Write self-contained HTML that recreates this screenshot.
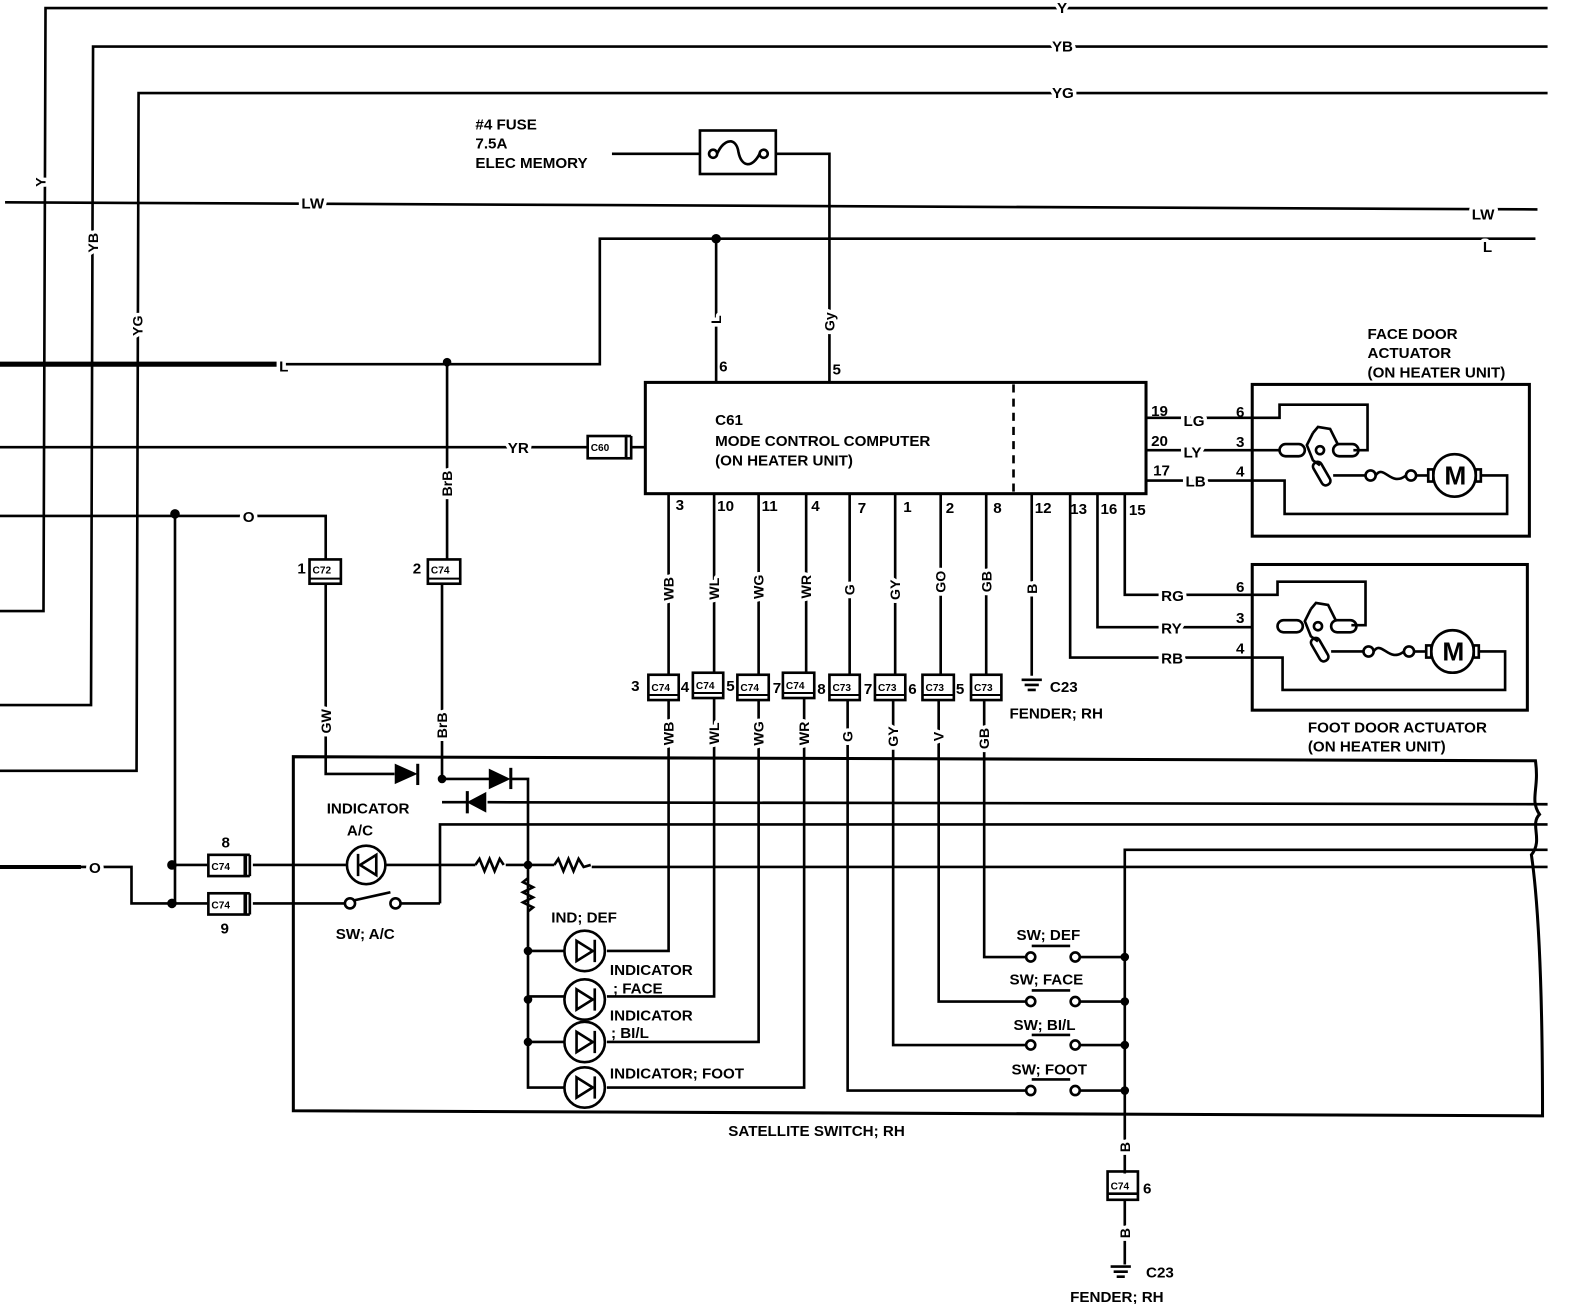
<!DOCTYPE html>
<html><head><meta charset="utf-8"><style>
html,body{margin:0;padding:0;background:#fff}
svg{display:block}
text{font-family:"Liberation Sans",sans-serif;font-weight:bold;fill:#000}
.m{paint-order:stroke;stroke:#fff;stroke-width:7px;stroke-linejoin:round}
</style></head><body>
<svg width="1584" height="1304" viewBox="0 0 1566 1289" preserveAspectRatio="none" xmlns="http://www.w3.org/2000/svg">
<g fill="none" stroke="#000" stroke-width="2.6" stroke-linejoin="miter">
<path d="M0,604 L43,604 L45,8 L1530,8"/>
<path d="M0,697 L90,697 L92,46 L1530,46"/>
<path d="M0,762 L135,762 L137,92 L1530,92"/>
<path d="M5,200 L1520,207"/>
<path d="M0,360 L593,360 L593,236 L1518,236" />
<path d="M0,360 L275,360" stroke-width="5"/>
<path d="M708,236 L708,378"/>
<path d="M442,358 L442,553"/>
<path d="M437,578 L437,770"/>
<path d="M605,152 L692,152"/>
<rect x="692" y="129" width="75" height="43"/>
<circle cx="705" cy="152" r="4"/><circle cx="755" cy="152" r="4"/>
<path d="M709,152 C716,136 728,136 730,150 C733,166 744,166 751,152"/>
<path d="M767,152 L820,152 L820,378"/>
<rect x="638" y="378" width="495" height="110" stroke-width="3"/>
<path d="M1002,380 L1002,486" stroke-dasharray="8,6"/>
<path d="M0,442 L580,442"/>
<rect x="581" y="431" width="38" height="22"/>
<path d="M619,431 L619,453 M624,431 L624,453 L619,453 M624,431 L619,431 M624,442 L638,442"/>
<path d="M0,510 L322,510 L322,553"/>
<path d="M173,508 L173,893"/>
<path d="M322,578 L322,765 L390,765"/>
<path d="M1133,413 L1238,413 M1133,445 L1238,445 M1133,475 L1238,475"/>
<rect x="1238" y="380" width="274" height="150" stroke-width="3"/>
<path d="M1238,413 L1265,413 L1265,400 L1352,400 L1352,445 L1338,445"/>
<path d="M1238,445 L1265,445"/>
<rect x="1265" y="439" width="25" height="12" rx="6"/>
<rect x="1318" y="439" width="25" height="12" rx="6"/>
<path d="M1298,428 L1303,422 L1315,424 L1323,440 M1298,428 L1292,440 L1298,455 L1305,460"/>
<circle cx="1305" cy="445" r="4"/>
<rect x="1302" y="456" width="9" height="25" rx="4" transform="rotate(-30 1306 468)"/>
<path d="M1318,470 L1350,470"/>
<circle cx="1355" cy="470" r="5"/><circle cx="1395" cy="470" r="5"/>
<path d="M1360,470 C1368,458 1375,482 1390,470"/>
<path d="M1400,470 L1412,470"/>
<rect x="1412" y="464" width="5" height="12"/>
<circle cx="1438" cy="470" r="21"/>
<rect x="1459" y="464" width="5" height="12"/>
<path d="M1464,470 L1490,470 L1490,508 L1270,508 L1270,475 L1238,475"/>
<path d="M1112,488 L1112,588 L1238,588 M1085,488 L1085,620 L1238,620 M1058,488 L1058,650 L1238,650"/>
<rect x="1238" y="558" width="272" height="144" stroke-width="3"/>
<path d="M1238,588 L1263,588 L1263,575 L1350,575 L1350,618 L1336,618"/>
<rect x="1263" y="613" width="25" height="12" rx="6"/>
<rect x="1316" y="613" width="25" height="12" rx="6"/>
<path d="M1296,602 L1301,596 L1313,598 L1321,614 M1296,602 L1290,614 L1296,629 L1303,634"/>
<circle cx="1303" cy="619" r="4"/>
<rect x="1300" y="630" width="9" height="25" rx="4" transform="rotate(-30 1304 642)"/>
<path d="M1316,644 L1348,644"/>
<circle cx="1353" cy="644" r="5"/><circle cx="1393" cy="644" r="5"/>
<path d="M1358,644 C1366,632 1373,656 1388,644"/>
<path d="M1398,644 L1410,644"/>
<rect x="1410" y="638" width="5" height="12"/>
<circle cx="1436" cy="644" r="21"/>
<rect x="1457" y="638" width="5" height="12"/>
<path d="M1462,644 L1488,644 L1488,682 L1268,682 L1268,650 L1238,650"/>
<path d="M661,488 V668 M706,488 V666 M750,488 V668 M797,488 V666 M840,488 V668 M885,488 V668 M930,488 V668 M975,488 V668 M1020,488 V668"/>
<path d="M1010,672 H1030 M1013,677 H1027 M1016,682 H1024"/>
<path d="M661,692 L661,940 L600,940"/>
<path d="M706,690 L706,985 L600,985"/>
<path d="M750,692 L750,1030 L600,1030"/>
<path d="M795,690 L795,1075 L600,1075"/>
<path d="M838,692 L838,1078 L1015,1078"/>
<path d="M883,692 L883,1033 L1015,1033"/>
<path d="M928,692 L928,990 L1015,990"/>
<path d="M973,692 L973,946 L1015,946"/>
<path d="M290,748 L1518,752 C1522,780 1512,790 1522,805 C1512,815 1526,830 1514,845 C1522,900 1525,1000 1525,1103 L290,1098 Z" stroke-width="3"/>
<path d="M437,770 L484,770"/>
<path d="M505,770 L522,770 L522,1075 L558,1075"/>
<path d="M437,793 L462,793 M482,793 L1530,795"/>
<path d="M435,893 L435,815 L1530,815"/>
<path d="M1112,1160 L1112,840 L1530,840"/>
<path d="M585,857 L1530,857"/>
<path d="M250,855 L342,855 M382,855 L470,855 M500,855 L548,855"/>
<path d="M470,855 l4,-6 l5,12 l5,-12 l5,12 l5,-12 l4,6"/>
<path d="M548,855 l4,-6 l5,12 l5,-12 l5,12 l5,-12 l5,8 l7,-2"/>
<path d="M522,868 l-5,4 l10,5 l-10,5 l10,5 l-10,5 l10,5 l-5,4"/>
<circle cx="362" cy="855" r="19"/>
<path d="M0,857 L130,857 L130,893 L205,893"/>
<path d="M0,857 L80,857" stroke-width="4"/>
<path d="M173,855 L205,855"/>
<rect x="206" y="845" width="36" height="21"/><path d="M243,845 V866 M247,845 V866 M243,845 H247 M243,866 H247"/>
<rect x="206" y="883" width="36" height="21"/><path d="M243,883 V904 M247,883 V904 M243,883 H247 M243,904 H247"/>
<path d="M250,893 L341,893 M396,893 L435,893"/>
<circle cx="346" cy="893" r="5"/><circle cx="391" cy="893" r="5"/>
<path d="M350,890 L386,882"/>
<path d="M522,940 L558,940 M522,985 L558,985 M522,1030 L558,1030"/>
<circle cx="578" cy="940" r="20"/><circle cx="578" cy="988" r="20"/><circle cx="578" cy="1030" r="20"/><circle cx="578" cy="1075" r="20"/>
<circle cx="1019" cy="946" r="4.5"/><circle cx="1063" cy="946" r="4.5"/>
<circle cx="1019" cy="990" r="4.5"/><circle cx="1063" cy="990" r="4.5"/>
<circle cx="1019" cy="1033" r="4.5"/><circle cx="1063" cy="1033" r="4.5"/>
<circle cx="1019" cy="1078" r="4.5"/><circle cx="1063" cy="1078" r="4.5"/>
<path d="M1068,946 H1112 M1068,990 H1112 M1068,1033 H1112 M1068,1078 H1112"/>
<path d="M1020,935 H1058 M1020,979 H1058 M1020,1023 H1058 M1020,1067 H1058"/>
<path d="M1112,1186 L1112,1250"/>
<rect x="1095" y="1158" width="30" height="28"/>
<path d="M1095,1180 H1125"/>
<path d="M1098,1252 H1118 M1101,1257 H1115 M1104,1262 H1112"/>
</g>
<g fill="#000" stroke="#000" stroke-width="1.5">
<circle cx="708" cy="236" r="4"/><circle cx="442" cy="358" r="3.5"/>
<circle cx="173" cy="508" r="4"/><circle cx="170" cy="855" r="4"/><circle cx="170" cy="893" r="4"/>
<circle cx="437" cy="770" r="3.5"/><circle cx="522" cy="855" r="3.5"/><circle cx="522" cy="940" r="3.5"/><circle cx="522" cy="988" r="3.5"/><circle cx="522" cy="1030" r="3.5"/>
<circle cx="1112" cy="946" r="3.5"/><circle cx="1112" cy="990" r="3.5"/><circle cx="1112" cy="1033" r="3.5"/><circle cx="1112" cy="1078" r="3.5"/>
<path d="M391,756 L411,765 L391,774 Z"/><path d="M413,755 V776" stroke-width="3"/>
<path d="M484,761 L503,770 L484,779 Z"/><path d="M505,759 V780" stroke-width="3"/>
<path d="M480,784 L463,793 L480,802 Z"/><path d="M462,782 V804" stroke-width="3"/>
</g>
<g fill="none" stroke="#000" stroke-width="2.6">
<path d="M372,845 L356,855 L372,865 Z M354,844 V866"/>
<path d="M570,930 L586,940 L570,950 Z M588,929 V951"/>
<path d="M570,978 L586,988 L570,998 Z M588,977 V999"/>
<path d="M570,1020 L586,1030 L570,1040 Z M588,1019 V1041"/>
<path d="M570,1065 L586,1075 L570,1085 Z M588,1064 V1086"/>
</g>
<g fill="#fff" stroke="#000" stroke-width="2.6">
<rect x="306" y="553" width="31" height="24"/><rect x="423" y="553" width="32" height="24"/>
<rect x="641" y="667" width="30" height="25"/><rect x="685" y="665" width="30" height="25"/>
<rect x="729" y="667" width="31" height="25"/><rect x="774" y="665" width="31" height="25"/>
<rect x="820" y="667" width="30" height="25"/><rect x="865" y="667" width="30" height="25"/>
<rect x="912" y="667" width="31" height="25"/><rect x="960" y="667" width="30" height="25"/>
</g>
<g stroke="#000" stroke-width="2" fill="none">
<path d="M306,572 H337 M423,572 H455 M641,687 H671 M685,685 H715 M729,687 H760 M774,685 H805 M820,687 H850 M865,687 H895 M912,687 H943 M960,687 H990"/>
</g>
<g font-size="10">
<text x="309" y="567">C72</text><text x="426" y="567">C74</text>
<text x="644" y="683">C74</text><text x="688" y="681">C74</text><text x="732" y="683">C74</text><text x="777" y="681">C74</text>
<text x="823" y="683">C73</text><text x="868" y="683">C73</text><text x="915" y="683">C73</text><text x="963" y="683">C73</text>
<text x="584" y="446">C60</text><text x="209" y="860">C74</text><text x="209" y="898">C74</text><text x="1098" y="1176">C74</text>
</g>
<g font-size="15">
<text x="1045" y="13" class="m">Y</text>
<text x="1040" y="51" class="m">YB</text>
<text x="1040" y="97" class="m">YG</text>
<text x="298" y="206" class="m">LW</text>
<text x="1455" y="217" class="m">LW</text>
<text x="1466" y="249" class="m">L</text>
<text x="276" y="367" class="m">L</text>
<text x="502" y="448" class="m">YR</text>
<text x="240" y="516" class="m">O</text>
<text x="88" y="863" class="m">O</text>
<text x="470" y="128">#4 FUSE</text>
<text x="470" y="147">7.5A</text>
<text x="470" y="166">ELEC MEMORY</text>
<text x="711" y="367">6</text><text x="823" y="370">5</text>
<text x="707" y="420">C61</text>
<text x="707" y="441">MODE CONTROL COMPUTER</text>
<text x="707" y="460">(ON HEATER UNIT)</text>
<text x="1138" y="411">19</text><text x="1138" y="441">20</text><text x="1140" y="470">17</text>
<text x="1170" y="421" class="m">LG</text><text x="1170" y="452" class="m">LY</text><text x="1172" y="481" class="m">LB</text>
<text x="1222" y="412">6</text><text x="1222" y="442">3</text><text x="1222" y="471">4</text>
<text x="1148" y="594" class="m">RG</text><text x="1148" y="626" class="m">RY</text><text x="1148" y="656" class="m">RB</text>
<text x="1222" y="585">6</text><text x="1222" y="616">3</text><text x="1222" y="646">4</text>
<text x="1352" y="335">FACE DOOR</text><text x="1352" y="354">ACTUATOR</text><text x="1352" y="373">(ON HEATER UNIT)</text>
<text x="1293" y="724">FOOT DOOR ACTUATOR</text><text x="1293" y="743">(ON HEATER UNIT)</text>
<text x="668" y="504">3</text><text x="709" y="505">10</text><text x="753" y="505">11</text><text x="802" y="505">4</text>
<text x="848" y="507">7</text><text x="893" y="506">1</text><text x="935" y="507">2</text><text x="982" y="507">8</text>
<text x="1023" y="507">12</text><text x="1058" y="508">13</text><text x="1088" y="508">16</text><text x="1116" y="509">15</text>
<text x="624" y="683">3</text><text x="673" y="684">4</text><text x="718" y="683">5</text><text x="764" y="685">7</text>
<text x="808" y="686">8</text><text x="854" y="686">7</text><text x="898" y="686">6</text><text x="945" y="686">5</text>
<text x="1038" y="684">C23</text><text x="998" y="710">FENDER; RH</text>
<text x="294" y="567">1</text><text x="408" y="567">2</text>
<text x="323" y="804">INDICATOR</text><text x="343" y="826">A/C</text>
<text x="332" y="928">SW; A/C</text>
<text x="219" y="838">8</text><text x="218" y="923">9</text>
<text x="545" y="912">IND; DEF</text>
<text x="603" y="964">INDICATOR</text><text x="606" y="982">; FACE</text>
<text x="603" y="1009">INDICATOR</text><text x="604" y="1026">; BI/L</text>
<text x="603" y="1066">INDICATOR; FOOT</text>
<text x="1005" y="929">SW; DEF</text><text x="998" y="973">SW; FACE</text>
<text x="1002" y="1018">SW; BI/L</text><text x="1000" y="1062">SW; FOOT</text>
<text x="720" y="1123">SATELLITE SWITCH; RH</text>
<text x="1130" y="1180">6</text>
<text x="1133" y="1263">C23</text><text x="1058" y="1287">FENDER; RH</text>
</g>
<g font-size="14">
<text class="m" transform="translate(45,180) rotate(-90)" text-anchor="middle">Y</text>
<text class="m" transform="translate(97,240) rotate(-90)" text-anchor="middle">YB</text>
<text class="m" transform="translate(141,322) rotate(-90)" text-anchor="middle">YG</text>
<text class="m" transform="translate(713,316) rotate(-90)" text-anchor="middle">L</text>
<text class="m" transform="translate(825,318) rotate(-90)" text-anchor="middle">Gy</text>
<text class="m" transform="translate(447,478) rotate(-90)" text-anchor="middle">BrB</text>
<text class="m" transform="translate(442,717) rotate(-90)" text-anchor="middle">BrB</text>
<text class="m" transform="translate(327,713) rotate(-90)" text-anchor="middle">GW</text>
<text class="m" transform="translate(666,582) rotate(-90)" text-anchor="middle">WB</text>
<text class="m" transform="translate(711,582) rotate(-90)" text-anchor="middle">WL</text>
<text class="m" transform="translate(755,580) rotate(-90)" text-anchor="middle">WG</text>
<text class="m" transform="translate(802,580) rotate(-90)" text-anchor="middle">WR</text>
<text class="m" transform="translate(845,583) rotate(-90)" text-anchor="middle">G</text>
<text class="m" transform="translate(890,583) rotate(-90)" text-anchor="middle">GY</text>
<text class="m" transform="translate(935,575) rotate(-90)" text-anchor="middle">GO</text>
<text class="m" transform="translate(980,575) rotate(-90)" text-anchor="middle">GB</text>
<text class="m" transform="translate(1025,582) rotate(-90)" text-anchor="middle">B</text>
<text class="m" transform="translate(666,725) rotate(-90)" text-anchor="middle">WB</text>
<text class="m" transform="translate(711,725) rotate(-90)" text-anchor="middle">WL</text>
<text class="m" transform="translate(755,725) rotate(-90)" text-anchor="middle">WG</text>
<text class="m" transform="translate(800,725) rotate(-90)" text-anchor="middle">WR</text>
<text class="m" transform="translate(843,728) rotate(-90)" text-anchor="middle">G</text>
<text class="m" transform="translate(888,728) rotate(-90)" text-anchor="middle">GY</text>
<text class="m" transform="translate(933,728) rotate(-90)" text-anchor="middle">V</text>
<text class="m" transform="translate(978,730) rotate(-90)" text-anchor="middle">GB</text>
<text class="m" transform="translate(1117,1134) rotate(-90)" text-anchor="middle">B</text>
<text class="m" transform="translate(1117,1219) rotate(-90)" text-anchor="middle">B</text>
</g>
<g font-size="26">
<text x="1428" y="479">M</text><text x="1426" y="653">M</text>
</g>
</svg>
</body></html>
